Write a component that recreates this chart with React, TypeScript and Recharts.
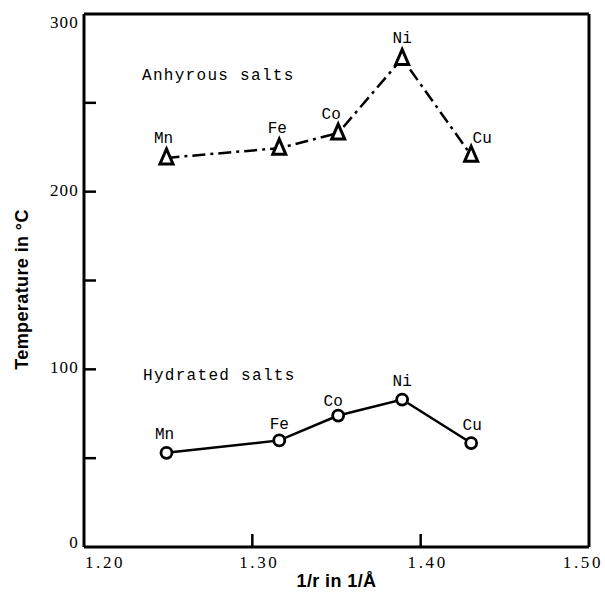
import React from 'react';
import { LineChart, Line, XAxis, YAxis, LabelList, Label, Customized, ReferenceLine } from 'recharts';

// 1/r values (1/Å) for the divalent ions
const elements = ['Mn', 'Fe', 'Co', 'Ni', 'Cu'];
const invRadius = [1.249, 1.316, 1.351, 1.389, 1.43];
// decomposition temperatures, °C
const anhydrous = [219, 224.5, 233, 275, 220.5];
const hydrated = [53, 60, 74, 83, 58.5];

const xTicks = [1.2, 1.3, 1.4, 1.5];
const yTicks = [0, 50, 100, 150, 200, 250, 300];
const yLabeled = [0, 100, 200, 300];

const data = elements.map((el, i) => ({
  el,
  x: invRadius[i],
  anh: anhydrous[i],
  hyd: hydrated[i],
}));

const mono = '"Liberation Mono", "DejaVu Sans Mono", monospace';
const serif = '"Liberation Serif", "DejaVu Serif", serif';
const sans = '"Liberation Sans", Arial, sans-serif';

// label nudges for the element symbols (dx, dy from the point)
const anhOffsets: Record<string, [number, number]> = {
  Mn: [-3, -15], Fe: [-2, -15], Co: [-7, -14], Ni: [0, -15], Cu: [11, -12],
};
const hydOffsets: Record<string, [number, number]> = {
  Mn: [-2, -14], Fe: [0, -11], Co: [-5, -10], Ni: [0, -14], Cu: [1, -13],
};

const makeLabel = (offsets: Record<string, [number, number]>) => (props: any) => {
  const { x, y, value } = props;
  const [dx, dy] = offsets[value] || [0, -14];
  return (
    <text x={x + dx} y={y + dy} textAnchor="middle" fontFamily={mono} fontSize={16} fill="#000">
      {value}
    </text>
  );
};

const Triangle = (props: any) => {
  const { cx, cy, index } = props;
  if (cx == null || cy == null) return <g key={`t-${index}`} />;
  const w = 13;
  const h = 15;
  return (
    <path
      key={`t-${index}`}
      d={`M${cx},${cy - h * 0.6} L${cx + w / 2},${cy + h * 0.4} L${cx - w / 2},${cy + h * 0.4} Z`}
      fill="#fff"
      stroke="#000"
      strokeWidth={3}
      strokeLinejoin="miter"
    />
  );
};

const YTick = (props: any) => {
  const { x, y, payload } = props;
  const v = payload.value;
  return (
    <g>
      {v !== 0 && v !== 300 && <line x1={x} x2={x + 12} y1={y} y2={y} stroke="#000" strokeWidth={2.5} />}
      {yLabeled.includes(v) && (
        <text x={x - 5} y={y + (v === 300 ? 14 : v === 0 ? 1 : 4)} textAnchor="end" fontFamily={serif} fontSize={17} letterSpacing={1.2} fill="#000">
          {v}
        </text>
      )}
    </g>
  );
};

const XTick = (props: any) => {
  const { x, y, payload, index } = props;
  const v = payload.value;
  const first = index === 0;
  const last = v === 1.5;
  const anchor = first ? 'start' : last ? 'end' : 'middle';
  const tx = first ? x + 1 : last ? x + 14 : x + 7;
  return (
    <g>
      {!first && !last && <line x1={x} x2={x} y1={y} y2={y - 13} stroke="#000" strokeWidth={2.5} />}
      <text x={tx} y={y + 21} textAnchor={anchor} fontFamily={serif} fontSize={17} letterSpacing={2.6} fill="#000">
        {v.toFixed(2)}
      </text>
    </g>
  );
};

const Notes = () => (
  <g fontFamily={mono} fontSize={16} letterSpacing={1.3} fill="#000">
    <text x={142} y={80}>Anhyrous salts</text>
    <text x={143} y={380}>Hydrated salts</text>
  </g>
);

export default function App() {
  return (
    <div style={{ position: 'absolute', left: 0, top: 0, background: '#fff' }}>
      <LineChart width={605} height={592} data={data} margin={{ top: 14, right: 16, left: 0, bottom: 0 }}>
        <XAxis
          dataKey="x"
          type="number"
          domain={[1.2, 1.5]}
          ticks={xTicks}
          height={45}
          tickSize={0}
          tickMargin={0}
          tickLine={false}
          axisLine={{ stroke: '#000', strokeWidth: 3 }}
          tick={<XTick />}
          interval={0}
        >
          <Label
            content={(p: any) => {
              const vb = p.viewBox;
              return (
                <text x={vb.x + vb.width / 2} y={vb.y + 40} textAnchor="middle" fontFamily={sans} fontWeight="bold" fontSize={18} letterSpacing={0.4} fill="#000">
                  1/r in 1/Å
                </text>
              );
            }}
          />
        </XAxis>
        <YAxis
          type="number"
          domain={[0, 300]}
          ticks={yTicks}
          width={84}
          tickSize={0}
          tickMargin={0}
          tickLine={false}
          axisLine={{ stroke: '#000', strokeWidth: 3 }}
          tick={<YTick />}
          interval={0}
        >
          <Label
            content={(p: any) => {
              const vb = p.viewBox;
              const cy = vb.y + vb.height / 2 + 9;
              return (
                <text x={28} y={cy} transform={`rotate(-90 28 ${cy})`} textAnchor="middle" fontFamily={sans} fontWeight="bold" fontSize={18} letterSpacing={0.4} fill="#000">
                  Temperature in °C
                </text>
              );
            }}
          />
        </YAxis>
        {/* top and right sides of the frame */}
        <ReferenceLine y={300} stroke="#000" strokeWidth={3} />
        <ReferenceLine x={1.5} stroke="#000" strokeWidth={3} />
        <Line
          dataKey="anh"
          stroke="#000"
          strokeWidth={2.5}
          strokeDasharray="13 5 3 5"
          dot={Triangle}
          activeDot={false}
          isAnimationActive={false}
        >
          <LabelList dataKey="el" content={makeLabel(anhOffsets)} />
        </Line>
        <Line
          dataKey="hyd"
          stroke="#000"
          strokeWidth={2.5}
          dot={{ r: 5.5, stroke: '#000', strokeWidth: 2.8, fill: '#fff' }}
          activeDot={false}
          isAnimationActive={false}
        >
          <LabelList dataKey="el" content={makeLabel(hydOffsets)} />
        </Line>
        <Customized component={Notes} />
      </LineChart>
    </div>
  );
}
